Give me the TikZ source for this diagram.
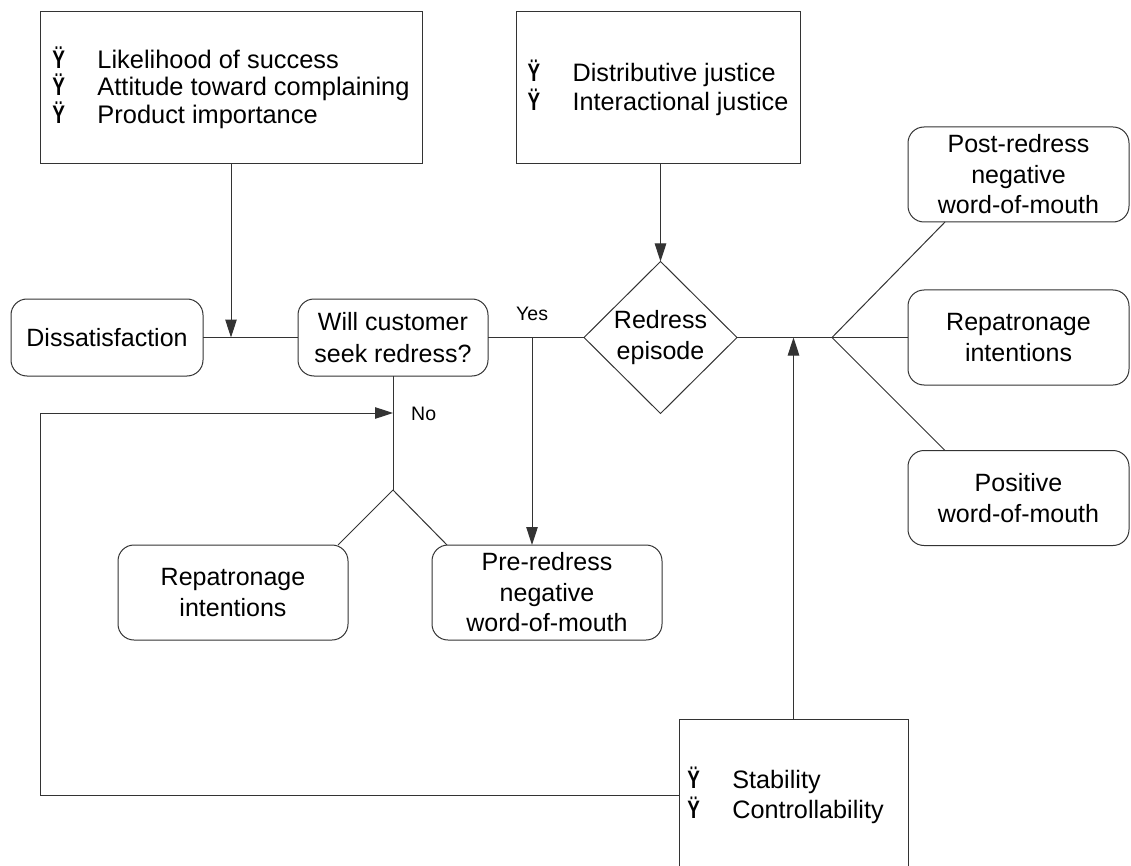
\documentclass[tikz,border=0pt]{standalone}
\usepackage{fontspec}
\setmainfont{Liberation Sans}
\usepackage{graphicx}
\usetikzlibrary{shapes.geometric,arrows.meta,calc}
% narrow bold list marker followed by a fixed gap
\newcommand{\bulmark}{\makebox[45pt][l]{\scalebox{0.75}[1]{\bfseries Ÿ}}}

\begin{document}
\begin{tikzpicture}[x=1pt,y=-1pt,
  line/.style={draw=black!80, line width=1pt},
  arr/.style={line, -{Triangle[length=18pt,width=11.5pt]}},
  box/.style={line, rectangle, inner sep=0pt, outer sep=0pt, align=center,
    font=\fontsize{25}{30.5}\selectfont},
  rbox/.style={box, rounded corners=16pt},
  listbox/.style={box, align=left},
  tag/.style={font=\fontsize{19.5}{22}\selectfont, inner sep=0pt}
]
\useasboundingbox (0,0) rectangle (1131,866);
\clip (0,0) rectangle (1131,866);

% antecedent boxes
\node[listbox, minimum width=382pt, minimum height=152pt,
      font=\fontsize{25.4}{26.7}\selectfont] (factors) at (231,88)
  {\bulmark Likelihood of success\\ \bulmark Attitude toward complaining\hspace*{8pt}\\ \bulmark Product importance};
\node[listbox, minimum width=284pt, minimum height=152pt,
      font=\fontsize{25.2}{29}\selectfont] (justice) at (658,88)
  {\bulmark Distributive justice\\ \bulmark Interactional justice};

% main flow
\node[rbox, minimum width=192pt, minimum height=77pt] (dissat) at (107,337.5) {Dissatisfaction};
\node[rbox, minimum width=190pt, minimum height=77pt,
      font=\fontsize{25}{32}\selectfont] (seek) at (393,337.5) {Will customer\\seek redress?};
\node[box, diamond, minimum width=153pt, minimum height=152pt] (redress) at (660.5,337.5) {Redress\\episode};

% outcomes after redress
\node[rbox, minimum width=221pt, minimum height=95pt] (post) at (1018.5,174.5) {Post-redress\\negative\\word-of-mouth};
\node[rbox, minimum width=221pt, minimum height=95pt] (repR) at (1018.5,337.5) {Repatronage\\intentions};
\node[rbox, minimum width=221pt, minimum height=95pt] (pos) at (1018.5,498) {Positive\\word-of-mouth};

% outcomes without redress
\node[rbox, minimum width=230pt, minimum height=95pt] (repL) at (233,592.5) {Repatronage\\intentions};
\node[rbox, minimum width=230pt, minimum height=95pt] (pre) at (547,592.5) {Pre-redress\\negative\\word-of-mouth};

% attributions
\node[listbox, minimum width=229pt, minimum height=152pt,
      font=\fontsize{25.2}{30}\selectfont] (attrib) at (793.5,795)
  {\bulmark Stability\\ \bulmark Controllability\hspace*{16pt}};

% junction points
\coordinate (j1) at (factors.south |- dissat.east);
\coordinate (yesj) at (532,337.5);
\coordinate (nojoin) at (seek.south |- 0,413);
\coordinate (split) at (seek.south |- 0,490);
\coordinate (loopc) at (40,413);
\coordinate (jr) at (832,337.5);

% connectors
\draw[line] (dissat.east) -- (seek.west);
\draw[arr] (factors.south) -- (j1);
\draw[line] (seek.east) -- (redress.west);
\draw[arr] (justice.south -| redress.north) -- (redress.north);
\draw[arr] (yesj) -- (yesj |- pre.north);
\draw[line] (seek.south) -- (split);
\draw[line] (split) -- ($(repL.north east)+(-10,0)$);
\draw[line] (split) -- ($(pre.north west)+(15,0)$);
\draw[arr] (attrib.west) -| (loopc) -- (nojoin);
\draw[line] (redress.east) -- (jr);
\draw[arr] (attrib.north) -- (attrib.north |- redress.east);
\draw[line] (jr) -- ($(post.south west)+(37,0)$);
\draw[line] (jr) -- (repR.west);
\draw[line] (jr) -- ($(pos.north west)+(37,0)$);

% branch labels
\node[tag, anchor=base west] (yes) at (516,320) {Yes};
\node[tag, anchor=base west] (no) at (411,420) {No};
\end{tikzpicture}
\end{document}
